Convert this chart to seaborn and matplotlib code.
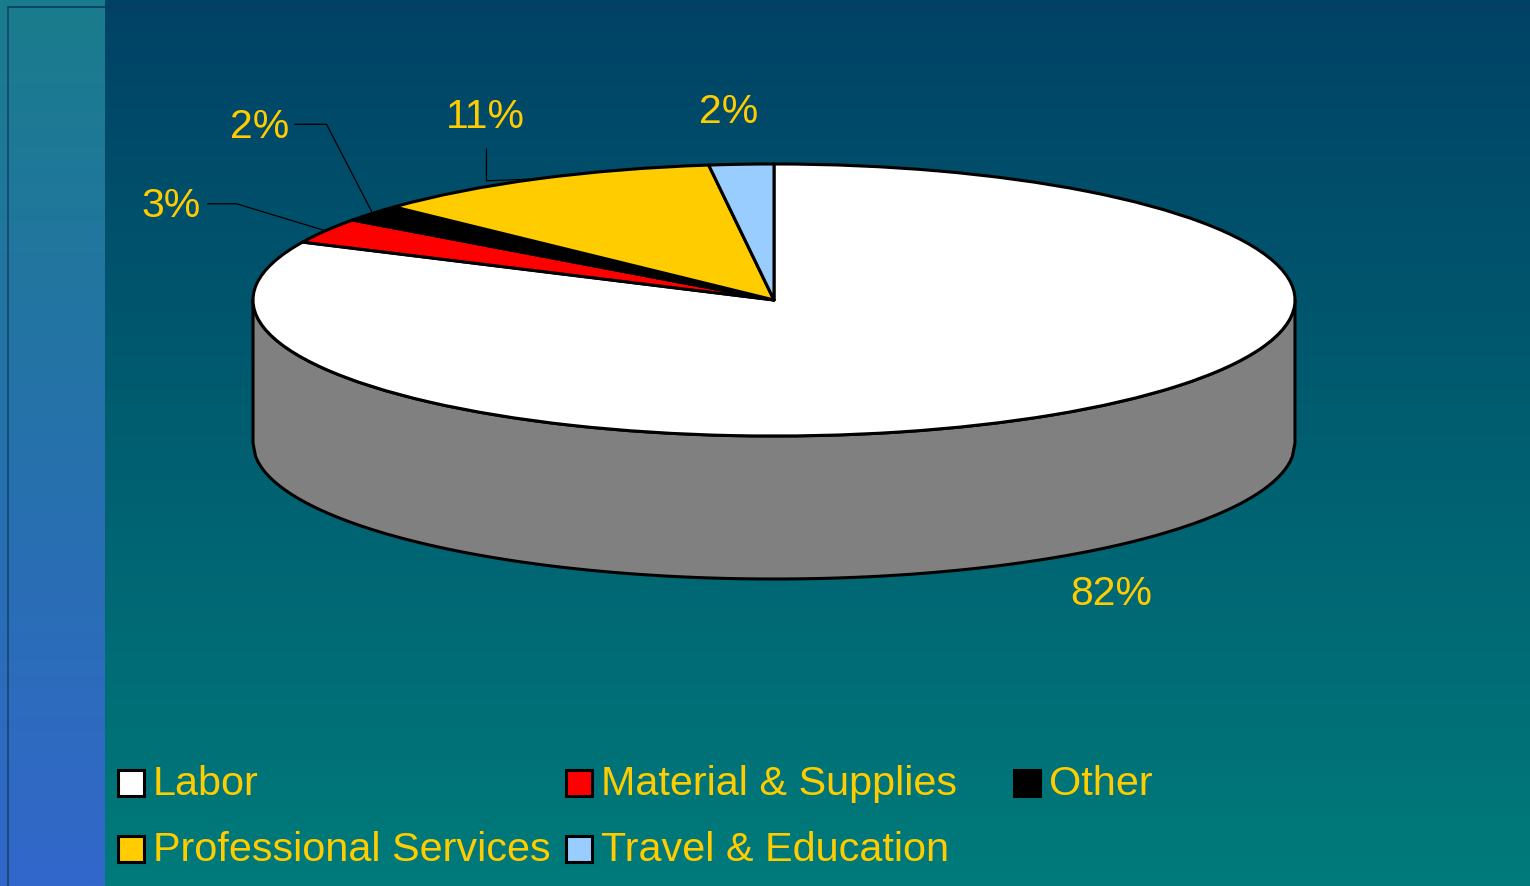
import numpy as np
import matplotlib
matplotlib.use("Agg")
import matplotlib.pyplot as plt
from matplotlib.patches import Rectangle
import seaborn as sns

# ---- data -----------------------------------------------------------------
categories = ["Labor", "Material & Supplies", "Other",
              "Professional Services", "Travel & Education"]
shares = [82, 3, 2, 11, 2]           # percent of total, clockwise from 12 o'clock
slice_colors = ["#FFFFFF", "#FF0000", "#000000", "#FFCC00", "#99CCFF"]

# legend reading order (row by row)
legend_order = ["Labor", "Material & Supplies", "Other",
                "Professional Services", "Travel & Education"]

# ---- style ------------------------------------------------------------------
sns.set_theme(style="white")
plt.rcParams["font.family"] = ["Liberation Sans", "DejaVu Sans"]
TEXT_GOLD = "#FFCC00"

W, H = 1530, 887
fig = plt.figure(figsize=(W / 100, H / 100), dpi=100)

# ---- background -------------------------------------------------------------
bg = fig.add_axes([0, 0, 1, 1], zorder=0)
bg.axis("off")

t = np.linspace(0, 1, H)[:, None]
main_top = np.array([0, 66, 102]) / 255
main_bot = np.array([0, 123, 123]) / 255
strip_top = np.array([26, 124, 140]) / 255
strip_bot = np.array([50, 103, 203]) / 255
main_grad = (main_top + (main_bot - main_top) * t)[:, None, :]
strip_grad = (strip_top + (strip_bot - strip_top) * t)[:, None, :]
bg.imshow(main_grad, extent=(0, W, H, 0), aspect="auto", interpolation="bilinear")
STRIP_W = 105
bg.imshow(strip_grad, extent=(0, STRIP_W, H, 0), aspect="auto", interpolation="bilinear")
bg.plot([8.5, 8.5], [7.5, H], color="#14466e", lw=1.2)
bg.plot([8.5, W], [7.5, 7.5], color="#0a3a66", lw=1.2)
bg.set_xlim(0, W)
bg.set_ylim(H, 0)

# ---- pie geometry (pixel layout of the tilted disc) -------------------------
CX, CY = 774, 301        # centre of top face, px
RX, RY = 521, 136        # semi-axes of the top face, px
DEPTH = 143              # thickness of the disc, px


def x_px(x):
    return CX + x * RX


def y_px(y):
    return CY - y * RY


ax = fig.add_axes([0, 0, 1, 1], zorder=1)
ax.patch.set_alpha(0)

wedges, _ = ax.pie(shares, colors=slice_colors, startangle=90, counterclock=False,
                   radius=1, center=(0, 0),
                   wedgeprops=dict(edgecolor="black", linewidth=2.2,
                                   joinstyle="round", zorder=2))

# side wall of the disc (front half only)
xs = np.linspace(-1, 1, 400)
upper = -np.sqrt(np.clip(1 - xs ** 2, 0, None))
lower = upper - DEPTH / RY
side_x = np.concatenate([xs, xs[::-1]])
side_y = np.concatenate([upper, lower[::-1]])
ax.fill(side_x, side_y, facecolor="#808080", edgecolor="black",
        linewidth=2.2, zorder=1, joinstyle="round")

ax.set_aspect("auto")
ax.set_xlim((0 - CX) / RX, (W - CX) / RX)
ax.set_ylim((CY - H) / RY, CY / RY)
ax.axis("off")

# ---- labels and leader lines (pixel overlay) --------------------------------
ov = fig.add_axes([0, 0, 1, 1], zorder=2)
ov.patch.set_alpha(0)
ov.set_xlim(0, W)
ov.set_ylim(H, 0)
ov.axis("off")

cum = np.cumsum([0] + shares)
total = float(sum(shares))


def rim_point(frac):
    th = np.deg2rad(frac * 360)
    return x_px(np.sin(th)), y_px(np.cos(th))


# label placement: (dx, dy) of the label baseline-centre from the slice's rim
# midpoint, plus optional elbow offsets for leader lines
label_layout = {
    "Labor": dict(off=(58, 46), leader=None),
    "Material & Supplies": dict(off=(-154, -15), leader=[(-89, -27), (-118, -27)]),
    "Other": dict(off=(-113, -76), leader=[(-46, -89), (-78, -89)]),
    "Professional Services": dict(off=(-52, -52), leader=[(-51, 2), (-51, -30)]),
    "Travel & Education": dict(off=(-13, -42), leader=None),
}

for i, (cat, val) in enumerate(zip(categories, shares)):
    mid = (cum[i] + val / 2) / total
    ax_px, ay_px = rim_point(mid)
    lay = label_layout[cat]
    if cat == "Labor":
        ay_px += DEPTH          # label sits below the side wall
    if lay["leader"]:
        pts = [(ax_px, ay_px)] + [(ax_px + dx, ay_px + dy) for dx, dy in lay["leader"]]
        ov.plot([p[0] for p in pts], [p[1] for p in pts], color="black", lw=0.9)
    ov.text(ax_px + lay["off"][0], ay_px + lay["off"][1], f"{val}%",
            color=TEXT_GOLD, fontsize=29.5, ha="center", va="baseline")

# ---- legend (3-column grid) -------------------------------------------------
LEG_X0, LEG_COL_W = 117, 448
LEG_ROW_TOP = [770, 836]
BOX = 27
color_of = dict(zip(categories, slice_colors))
for k, cat in enumerate(legend_order):
    r, c = divmod(k, 3)
    x0 = LEG_X0 + c * LEG_COL_W
    y0 = LEG_ROW_TOP[r]
    ov.add_patch(Rectangle((x0 + 1.5, y0 + 1.5), BOX - 1, BOX - 1,
                           facecolor=color_of[cat], edgecolor="black", linewidth=2.2))
    ov.text(x0 + 36, y0 + 25, cat, color=TEXT_GOLD, fontsize=29.8,
            ha="left", va="baseline")

fig.savefig("out.png", dpi=100)
